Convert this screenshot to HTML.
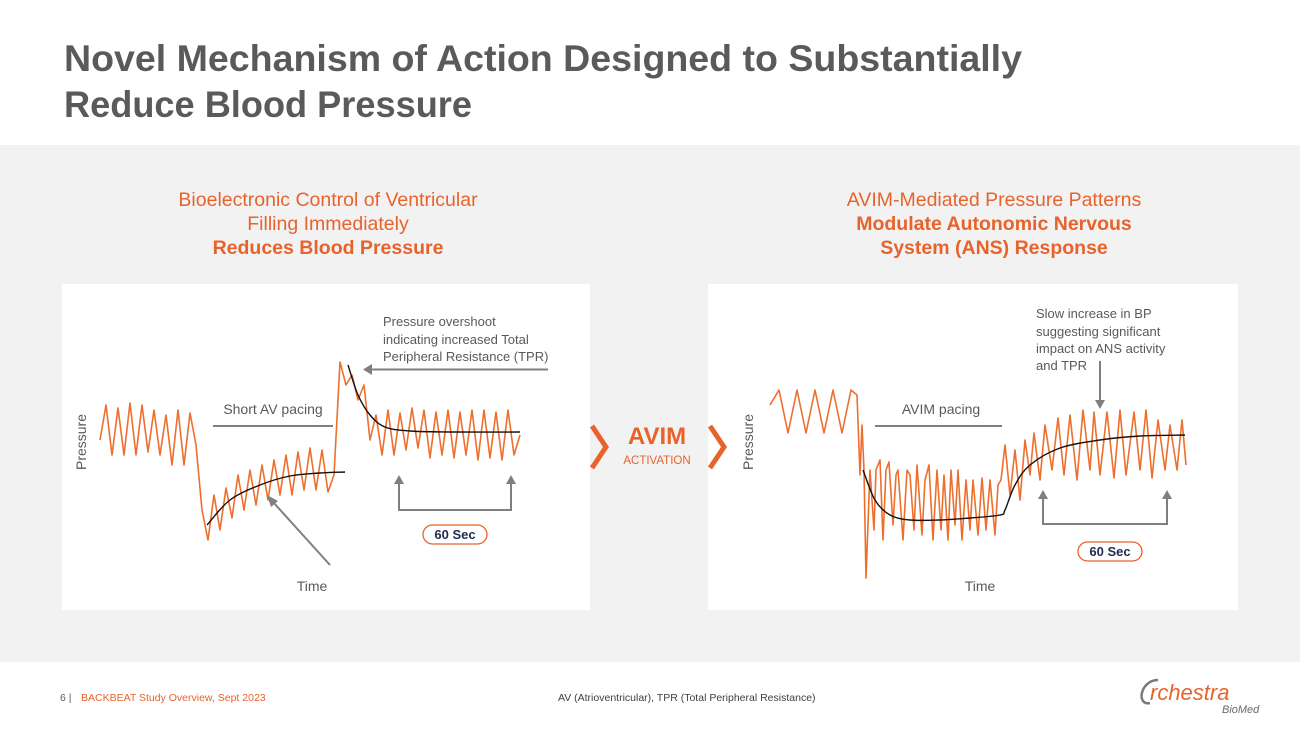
<!DOCTYPE html>
<html><head><meta charset="utf-8"><style>
html,body{margin:0;padding:0;background:#fff;}
body{width:1300px;height:731px;overflow:hidden;font-family:"Liberation Sans",sans-serif;}
svg text{font-family:"Liberation Sans",sans-serif;}
</style></head><body>
<svg id="slide" width="1300" height="731" viewBox="0 0 1300 731" xmlns="http://www.w3.org/2000/svg">
<rect x="0" y="0" width="1300" height="731" fill="#ffffff"/>
<text x="64" y="71" font-size="37" font-weight="bold" fill="#5a5a5a" textLength="958" lengthAdjust="spacingAndGlyphs">Novel Mechanism of Action Designed to Substantially</text>
<text x="64" y="117" font-size="37" font-weight="bold" fill="#5a5a5a" textLength="408" lengthAdjust="spacingAndGlyphs">Reduce Blood Pressure</text>
<rect x="0" y="145" width="1300" height="517" fill="#f2f2f2"/>

<g font-size="19.5" fill="#e8632b" text-anchor="middle">
<text x="328" y="206">Bioelectronic Control of Ventricular</text>
<text x="328" y="230">Filling Immediately</text>
<text x="328" y="254" font-weight="bold">Reduces Blood Pressure</text>
</g>
<g font-size="19.5" fill="#e8632b" text-anchor="middle">
<text x="994" y="206">AVIM-Mediated Pressure Patterns</text>
<text x="994" y="230" font-weight="bold">Modulate Autonomic Nervous</text>
<text x="994" y="254" font-weight="bold">System (ANS) Response</text>
</g>

<rect x="62" y="284" width="528" height="326" fill="#ffffff"/>
<rect x="708" y="284" width="530" height="326" fill="#ffffff"/>

<g id="left-chart"></g>
<g id="right-chart"></g>

<g fill="#595959" font-size="13">
<text transform="translate(86,442) rotate(-90)" text-anchor="middle" font-size="14">Pressure</text>
<text x="312" y="591" text-anchor="middle" font-size="14">Time</text>
<text x="273" y="414" text-anchor="middle" font-size="14">Short AV pacing</text>
<line x1="213" y1="426" x2="333" y2="426" stroke="#7f7f7f" stroke-width="2"/>
<text x="383" y="326">Pressure overshoot</text>
<text x="383" y="344">indicating increased Total</text>
<text x="383" y="361">Peripheral Resistance (TPR)</text>
<line x1="548" y1="369.5" x2="370" y2="369.5" stroke="#7f7f7f" stroke-width="2"/>
<path d="M363,369.5 L372,364 L372,375 Z" fill="#7f7f7f"/>
<line x1="330" y1="565" x2="273" y2="502" stroke="#7f7f7f" stroke-width="2"/>
<path d="M267,495 L278,501 L271,507 Z" fill="#7f7f7f"/>
<path d="M399,482 V510 H511 V482" fill="none" stroke="#7f7f7f" stroke-width="2"/>
<path d="M399,475 L394,484 L404,484 Z M511,475 L506,484 L516,484 Z" fill="#7f7f7f"/>
<rect x="423" y="525" width="64" height="19" rx="9.5" fill="#fff" stroke="#e8632b" stroke-width="1.3"/>
<text x="455" y="539" text-anchor="middle" font-weight="bold" fill="#1f2d4d" font-size="13">60 Sec</text>
</g>

<g fill="#595959" font-size="13">
<text transform="translate(753,442) rotate(-90)" text-anchor="middle" font-size="14">Pressure</text>
<text x="980" y="591" text-anchor="middle" font-size="14">Time</text>
<text x="941" y="414" text-anchor="middle" font-size="14">AVIM pacing</text>
<line x1="875" y1="426" x2="1002" y2="426" stroke="#7f7f7f" stroke-width="2"/>
<text x="1036" y="318">Slow increase in BP</text>
<text x="1036" y="336">suggesting significant</text>
<text x="1036" y="353">impact on ANS activity</text>
<text x="1036" y="370">and TPR</text>
<line x1="1100" y1="361" x2="1100" y2="402" stroke="#7f7f7f" stroke-width="2"/>
<path d="M1100,409 L1095,400 L1105,400 Z" fill="#7f7f7f"/>
<path d="M1043,497 V524 H1167 V497" fill="none" stroke="#7f7f7f" stroke-width="2"/>
<path d="M1043,490 L1038,499 L1048,499 Z M1167,490 L1162,499 L1172,499 Z" fill="#7f7f7f"/>
<rect x="1078" y="542" width="64" height="19" rx="9.5" fill="#fff" stroke="#e8632b" stroke-width="1.3"/>
<text x="1110" y="556" text-anchor="middle" font-weight="bold" fill="#1f2d4d" font-size="13">60 Sec</text>
</g>

<g>
<path d="M592,426 L606,447 L592,468" fill="none" stroke="#e8632b" stroke-width="5"/>
<path d="M710,426 L724,447 L710,468" fill="none" stroke="#e8632b" stroke-width="5"/>
<text x="657" y="444" text-anchor="middle" font-size="24" font-weight="bold" fill="#e8632b">AVIM</text>
<text x="657" y="464" text-anchor="middle" font-size="11.5" fill="#e8632b">ACTIVATION</text>
</g>

<g font-size="10.5">
<text x="60" y="701" fill="#595959">6 |</text>
<text x="81" y="701" fill="#e8632b">BACKBEAT Study Overview, Sept 2023</text>
<text x="558" y="701" fill="#404040">AV (Atrioventricular), TPR (Total Peripheral Resistance)</text>
</g>
<g>
<path d="M1158,680 C1140,680 1136,706 1150,703" fill="none" stroke="#7a7a7a" stroke-width="2.5"/>
<text x="1150" y="700" font-size="22" font-style="italic" fill="#e8632b">rchestra</text>
<text x="1222" y="713" font-size="11" font-style="italic" fill="#6a6a6a">BioMed</text>
</g>
</svg>
<script>
// Left chart data (time units, pressure units)
const leftTimes = [0,6,12,18,24,30,36,42,48,54,60,66,72,78,84,90,96,102,108,114,120,126,132,138,144,150,156,162,168,174,180,186,192,198,204,210,216,222,228,234,240,246,252,258,264,270,276,282,288,294,300,306,312,318,324,330,336,342,348,354,360,366,372,378,384,390,396,402,408,414,420];
const leftPressure = [160,195,145,192,145,197,145,195,148,190,145,185,135,190,135,187,155,90,60,105,70,112,82,125,90,130,95,135,100,140,105,145,105,148,110,152,110,150,108,125,238,215,225,200,215,160,185,145,190,145,187,150,192,152,190,142,188,145,190,142,188,145,190,140,190,142,188,140,190,145,165];
const leftFitA_T = [107,130,160,190,220,245];
const leftFitA_P = [75,100,115,124,127,128];
const leftFitB_T = [248,258,270,285,310,350,420];
const leftFitB_P = [235,205,185,173,169,168,168];
// Right chart data
const rightTimes = [0,9,18,27,36,45,54,63,72,81,87,90,92,94,96,100,104,106,110,113,116,119,123,126,128,133,137,140,144,147,152,155,159,163,167,171,174,178,181,185,188,192,196,200,203,208,212,216,220,225,228,231,235,240,245,250,255,260,264,270,275,282,288,294,300,307,313,320,324,330,337,344,350,356,364,370,376,382,388,395,400,407,412,416];
const rightPressure = [195,210,167,210,167,210,167,210,167,210,205,125,175,130,22,130,70,130,140,60,130,138,75,125,130,60,130,125,70,135,65,120,135,60,130,70,125,60,130,75,130,60,120,70,120,65,122,70,120,65,115,120,155,105,150,100,160,125,167,120,175,130,182,125,185,120,190,130,188,125,188,122,190,125,188,130,190,122,180,130,175,130,180,135];
const rightFitT = [93,105,120,140,170,200,230,235,245,260,290,330,370,415];
const rightFitP = [130,100,85,80,80,82,85,90,115,135,152,160,164,165];

function yScale(p){ return 600 - p; }
function leftX(t){ return 100 + t; }
function rightX(t){ return 770 + t; }

function linePath(ts, ps, xs){
  return ts.map((t,i)=>(i?'L':'M')+xs(t).toFixed(1)+','+yScale(ps[i]).toFixed(1)).join(' ');
}
function smoothPath(ts, ps, xs){
  const pts = ts.map((t,i)=>[xs(t), yScale(ps[i])]);
  let d = 'M'+pts[0][0]+','+pts[0][1];
  for(let i=0;i<pts.length-1;i++){
    const p0=pts[i-1]||pts[i], p1=pts[i], p2=pts[i+1], p3=pts[i+2]||p2;
    const c1=[p1[0]+(p2[0]-p0[0])/6, p1[1]+(p2[1]-p0[1])/6];
    const c2=[p2[0]-(p3[0]-p1[0])/6, p2[1]-(p3[1]-p1[1])/6];
    d+=' C'+c1[0].toFixed(1)+','+c1[1].toFixed(1)+' '+c2[0].toFixed(1)+','+c2[1].toFixed(1)+' '+p2[0].toFixed(1)+','+p2[1].toFixed(1);
  }
  return d;
}
const NS='http://www.w3.org/2000/svg';
function addPath(g, d, color, w){
  const p=document.createElementNS(NS,'path');
  p.setAttribute('d', d);
  p.setAttribute('fill','none');
  p.setAttribute('stroke', color);
  p.setAttribute('stroke-width', w);
  p.setAttribute('stroke-linejoin','round');
  g.appendChild(p);
  return p;
}
const lg=document.getElementById('left-chart');
let el=addPath(lg, linePath(leftTimes,leftPressure,leftX), '#ee6f2d', 1.6);


el=addPath(lg, smoothPath(leftFitA_T,leftFitA_P,leftX), '#111', 1.4);


el=addPath(lg, smoothPath(leftFitB_T,leftFitB_P,leftX), '#111', 1.4);


const rg=document.getElementById('right-chart');
el=addPath(rg, linePath(rightTimes,rightPressure,rightX), '#ee6f2d', 1.6);


el=addPath(rg, smoothPath(rightFitT,rightFitP,rightX), '#111', 1.4);


</script>
</body></html>
